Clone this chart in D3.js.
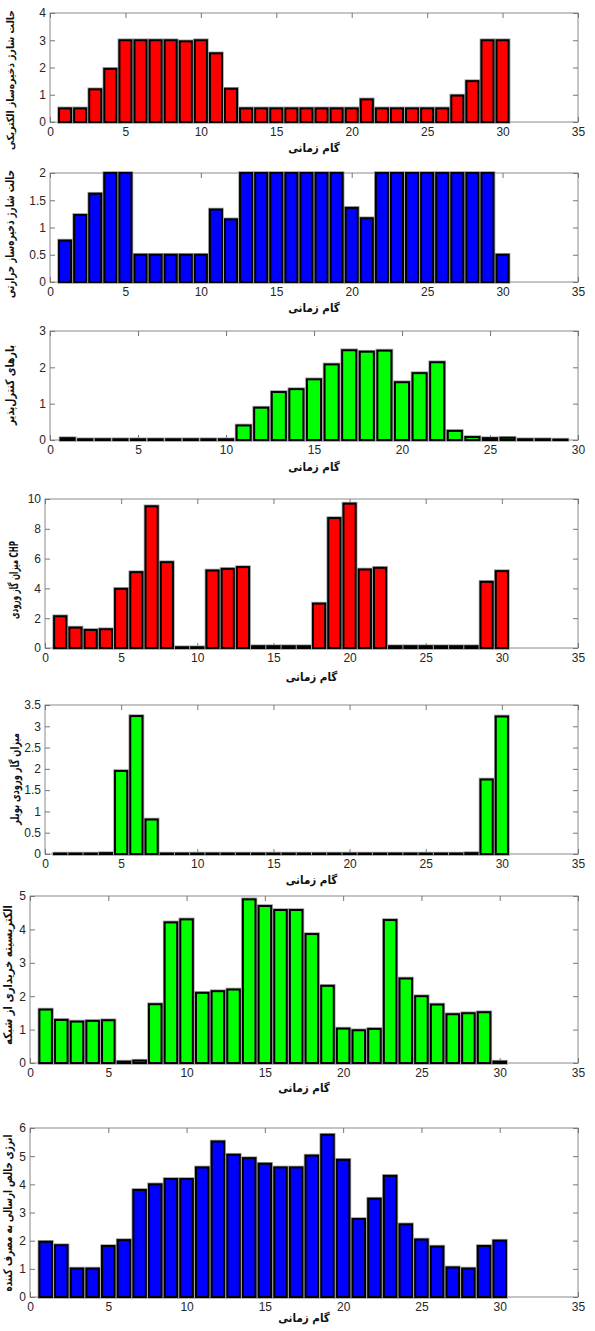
<!DOCTYPE html>
<html>
<head>
<meta charset="utf-8">
<script src="https://cdn.jsdelivr.net/npm/d3@7"></script>
<style>
  html, body { margin: 0; padding: 0; background: #fff; }
  svg { display: block; }
  .tick text { font-family: "Liberation Sans", Arial, sans-serif; font-size: 12px; fill: #262626; }
  .tick line { stroke: #777; }
  .faLabel { font-family: "DejaVu Sans Condensed", "DejaVu Sans", sans-serif; font-weight: bold; fill: #111; }
</style>
</head>
<body>
<svg id="chart" width="595" height="1331"></svg>
<script>
// time steps (گام زمانی)
const elecStorage = [0.5, 0.5, 1.2, 1.95, 3, 3, 3, 3, 2.96, 3, 2.52, 1.22, 0.5, 0.5, 0.5,
  0.5, 0.5, 0.5, 0.5, 0.5, 0.83, 0.5, 0.5, 0.5, 0.5, 0.5, 0.97, 1.5, 3, 3]
const thermStorage = [0.76, 1.23, 1.62, 2, 2, 0.5, 0.5, 0.5, 0.5, 0.5, 1.33, 1.15, 2, 2, 2,
  2, 2, 2, 2, 1.36, 1.17, 2, 2, 2, 2, 2, 2, 2, 2, 0.5]
const controllable = [0.05, 0.02, 0.02, 0.02, 0.02, 0.02, 0.02, 0.02, 0.02, 0.02, 0.4, 0.89, 1.32, 1.4, 1.67,
  2.08, 2.47, 2.43, 2.46, 1.59, 1.84, 2.14, 0.25, 0.08, 0.05, 0.06, 0.02, 0.02, 0.01]
const chpGas = [2.13, 1.37, 1.21, 1.26, 3.97, 5.09, 9.51, 5.76, 0.05, 0.05, 5.2, 5.31, 5.43, 0.12, 0.12,
  0.12, 0.12, 2.98, 8.72, 9.69, 5.27, 5.38, 0.12, 0.12, 0.12, 0.12, 0.12, 0.12, 4.44, 5.16]
const boilerGas = [0.01, 0.01, 0.01, 0.02, 1.95, 3.24, 0.81, 0.01, 0.01, 0.01, 0.01, 0.01, 0.01, 0.01, 0.01,
  0.01, 0.01, 0.01, 0.01, 0.01, 0.01, 0.01, 0.01, 0.01, 0.01, 0.01, 0.01, 0.02, 1.75, 3.23]
const gridPurchase = [1.6, 1.29, 1.24, 1.26, 1.28, 0.04, 0.07, 1.76, 4.21, 4.3, 2.1, 2.15, 2.2, 4.9, 4.7,
  4.58, 4.58, 3.86, 2.31, 1.03, 0.98, 1.02, 4.28, 2.53, 2.0, 1.75, 1.46, 1.49, 1.52, 0.04]
const netEnergy = [1.96, 1.84, 1.01, 1.01, 1.81, 2.02, 3.8, 4.0, 4.19, 4.19, 4.6, 5.52, 5.05, 4.93, 4.73,
  4.6, 4.6, 5.02, 5.76, 4.87, 2.77, 3.49, 4.3, 2.58, 2.04, 1.79, 1.05, 1.01, 1.81, 2.0]

// tick labels
const xTicks35 = [0, 5, 10, 15, 20, 25, 30, 35]
const xTicks30 = [0, 5, 10, 15, 20, 25, 30]
const yTicksElec = [0, 1, 2, 3, 4]
const yTicksTherm = [0, 0.5, 1, 1.5, 2]
const yTicksCtrl = [0, 1, 2, 3]
const yTicksChp = [0, 2, 4, 6, 8, 10]
const yTicksBoiler = [0, 0.5, 1, 1.5, 2, 2.5, 3, 3.5]
const yTicksGrid = [0, 1, 2, 3, 4, 5]
const yTicksNet = [0, 1, 2, 3, 4, 5, 6]

const xLabel = 'گام زمانی'
const yLabels = [
  'حالت شارژ ذخیره‌ساز الکتریکی',
  'حالت شارژ ذخیره‌ساز حرارتی',
  'بارهای کنترل‌پذیر',
  'میزان گاز ورودی CHP',
  'میزان گاز ورودی بویلر',
  'الکتریسیته خریداری از شبکه',
  'انرژی خالص ارسالی به مصرف کننده'
]

const panels = [
  { values: elecStorage, xt: xTicks35, yt: yTicksElec, color: '#ff0000' },
  { values: thermStorage, xt: xTicks35, yt: yTicksTherm, color: '#0000ff' },
  { values: controllable, xt: xTicks30, yt: yTicksCtrl, color: '#00ff00' },
  { values: chpGas, xt: xTicks35, yt: yTicksChp, color: '#ff0000' },
  { values: boilerGas, xt: xTicks35, yt: yTicksBoiler, color: '#00ff00' },
  { values: gridPurchase, xt: xTicks35, yt: yTicksGrid, color: '#00ff00' },
  { values: netEnergy, xt: xTicks35, yt: yTicksNet, color: '#0000ff' }
]

// layout: plot box, x-label baseline, y-label centre and its length on the page
// (fit: shrink the font instead of squeezing the glyphs)
const layout = [
  { l: 50, r: 578, t: 13, b: 122, xl: 152, lx: 10, ly: 80, len: 140, fit: true },
  { l: 50, r: 578, t: 173, b: 282, xl: 312, lx: 10, ly: 234, len: 128 },
  { l: 50, r: 578, t: 331, b: 440, xl: 471, lx: 10, ly: 385, len: 80 },
  { l: 45, r: 578, t: 499, b: 648, xl: 681, lx: 14, ly: 580, len: 78 },
  { l: 45, r: 578, t: 705, b: 854, xl: 884, lx: 15, ly: 779, len: 92 },
  { l: 30, r: 578, t: 896, b: 1063, xl: 1092, lx: 8, ly: 975, len: 140 },
  { l: 30, r: 578, t: 1128, b: 1297, xl: 1322, lx: 8, ly: 1213, len: 157 }
]

const svg = d3.select('#chart')
const tickLen = 5
const fmt = d3.format('~g')

panels.forEach(function (p, k) {
  const L = layout[k]
  const x = d3.scaleLinear().domain([0, d3.max(p.xt)]).range([L.l, L.r])
  const y = d3.scaleLinear().domain([0, d3.max(p.yt)]).range([L.b, L.t])
  const g = svg.append('g').attr('class', 'panel')

  // box
  g.append('rect')
    .attr('x', L.l).attr('y', L.t)
    .attr('width', L.r - L.l).attr('height', L.b - L.t)
    .attr('fill', '#fff').attr('stroke', '#8a8a8a').attr('stroke-width', 1)

  // inner ticks on all four sides
  g.append('g').attr('transform', 'translate(0,' + L.b + ')')
    .call(d3.axisBottom(x).tickValues(p.xt).tickFormat(fmt).tickSizeInner(-tickLen).tickSizeOuter(0).tickPadding(5))
    .call(function (a) { a.select('.domain').remove() })
  g.append('g').attr('transform', 'translate(0,' + L.t + ')')
    .call(d3.axisTop(x).tickValues(p.xt).tickSizeInner(-tickLen).tickSizeOuter(0).tickFormat(''))
    .call(function (a) { a.select('.domain').remove() })
  g.append('g').attr('transform', 'translate(' + L.l + ',0)')
    .call(d3.axisLeft(y).tickValues(p.yt).tickFormat(fmt).tickSizeInner(-tickLen).tickSizeOuter(0).tickPadding(4))
    .call(function (a) { a.select('.domain').remove() })
  g.append('g').attr('transform', 'translate(' + L.r + ',0)')
    .call(d3.axisRight(y).tickValues(p.yt).tickSizeInner(-tickLen).tickSizeOuter(0).tickFormat(''))
    .call(function (a) { a.select('.domain').remove() })

  // bars, width 0.8 of a step like MATLAB bar()
  const bw = x(0.8) - x(0)
  const bars = g.append('g')
  bars.selectAll('rect.halo').data(p.values).enter().append('rect')
    .attr('class', 'halo')
    .attr('x', function (d, i) { return x(i + 1) - bw / 2 })
    .attr('y', function (d) { return y(d) })
    .attr('width', bw)
    .attr('height', function (d) { return y(0) - y(d) })
    .attr('fill', 'none').attr('stroke', '#a0a0a0').attr('stroke-width', 3.6)
  bars.selectAll('rect.bar').data(p.values).enter().append('rect')
    .attr('class', 'bar')
    .attr('x', function (d, i) { return x(i + 1) - bw / 2 })
    .attr('y', function (d) { return y(d) })
    .attr('width', bw)
    .attr('height', function (d) { return y(0) - y(d) })
    .attr('fill', p.color).attr('stroke', '#000').attr('stroke-width', 2)

  // x label
  g.append('text').attr('class', 'faLabel')
    .attr('x', (L.l + L.r) / 2).attr('y', L.xl)
    .attr('text-anchor', 'middle').attr('font-size', 11.5)
    .text(xLabel)

  // y label, brought to the length it has in the figure
  const yl = g.append('text').attr('class', 'faLabel')
    .attr('transform', 'translate(' + L.lx + ',' + L.ly + ') rotate(-90)')
    .attr('text-anchor', 'middle').attr('dominant-baseline', 'central')
    .attr('font-size', 12)
    .text(yLabels[k])
  const w = yl.node().getComputedTextLength()
  if (w > L.len) {
    if (L.fit) {
      yl.attr('font-size', 12 * L.len / w)
    } else {
      yl.attr('textLength', L.len).attr('lengthAdjust', 'spacingAndGlyphs')
    }
  }
})
</script>
</body>
</html>
